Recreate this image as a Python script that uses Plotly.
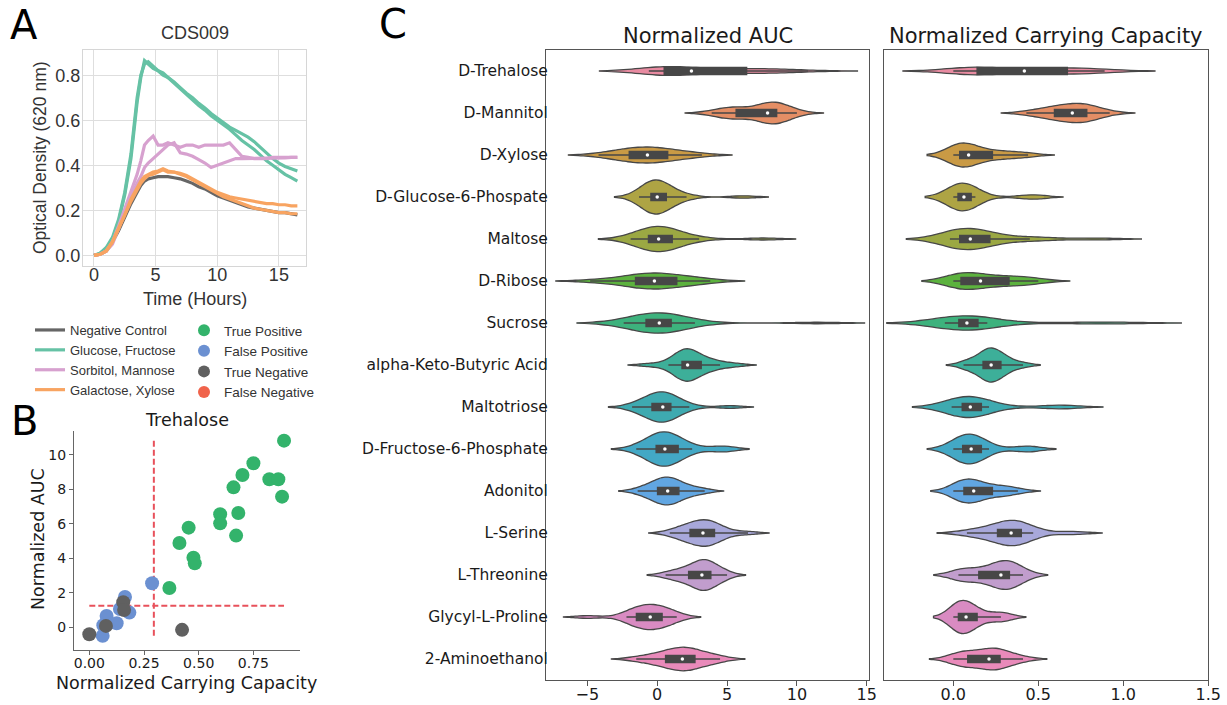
import numpy as np
import plotly.graph_objects as go

# ---------------- Panel A: growth curves (CDS009) ----------------
time_h = [0, 0.5, 1, 1.5, 2, 2.5, 3, 3.5, 3.8, 4.1, 4.4, 4.8, 5.2, 5.6, 6, 6.5, 7, 7.5,
          8, 8.5, 9, 9.5, 10, 10.5, 11, 11.5, 12, 12.5, 13, 13.5, 14, 14.5, 15, 15.5, 16, 16.5]

od_negative_1 = [0, 0.005, 0.02, 0.06, 0.11, 0.17, 0.23, 0.28, 0.31, 0.33, 0.34, 0.345, 0.35, 0.35, 0.35, 0.345, 0.34, 0.33,
                 0.32, 0.305, 0.295, 0.28, 0.265, 0.255, 0.245, 0.235, 0.225, 0.215, 0.21, 0.205, 0.2, 0.195, 0.19, 0.19, 0.185, 0.18]
od_glucose_1 = [0, 0.01, 0.03, 0.07, 0.15, 0.27, 0.43, 0.68, 0.79, 0.865, 0.85, 0.83, 0.82, 0.80, 0.79, 0.77, 0.745, 0.72,
                0.70, 0.675, 0.655, 0.63, 0.61, 0.59, 0.57, 0.555, 0.54, 0.525, 0.505, 0.48, 0.455, 0.43, 0.41, 0.395, 0.385, 0.375]
od_glucose_2 = [0, 0.01, 0.035, 0.08, 0.16, 0.28, 0.45, 0.70, 0.80, 0.85, 0.86, 0.84, 0.82, 0.81, 0.79, 0.765, 0.74, 0.715,
                0.69, 0.665, 0.645, 0.62, 0.60, 0.58, 0.56, 0.535, 0.51, 0.49, 0.47, 0.445, 0.42, 0.40, 0.38, 0.36, 0.345, 0.33]
od_sorbitol_1 = [0, 0.005, 0.02, 0.06, 0.13, 0.21, 0.28, 0.36, 0.42, 0.49, 0.51, 0.53, 0.49, 0.49, 0.50, 0.49, 0.48, 0.49,
                 0.49, 0.48, 0.49, 0.49, 0.49, 0.49, 0.50, 0.47, 0.44, 0.435, 0.43, 0.43, 0.43, 0.435, 0.435, 0.435, 0.435, 0.435]
od_sorbitol_2 = [0, 0.005, 0.02, 0.05, 0.12, 0.19, 0.26, 0.32, 0.35, 0.39, 0.41, 0.43, 0.45, 0.47, 0.49, 0.50, 0.455, 0.45,
                 0.44, 0.425, 0.41, 0.39, 0.40, 0.41, 0.42, 0.43, 0.43, 0.43, 0.43, 0.43, 0.43, 0.43, 0.43, 0.433, 0.435, 0.435]
od_galactose_1 = [0, 0.005, 0.02, 0.06, 0.12, 0.18, 0.24, 0.29, 0.32, 0.34, 0.355, 0.36, 0.37, 0.38, 0.37, 0.37, 0.36, 0.35,
                  0.335, 0.32, 0.305, 0.29, 0.275, 0.26, 0.25, 0.24, 0.23, 0.22, 0.21, 0.205, 0.20, 0.195, 0.19, 0.19, 0.185, 0.185]
od_galactose_2 = [0, 0.005, 0.02, 0.06, 0.12, 0.18, 0.25, 0.30, 0.33, 0.35, 0.36, 0.37, 0.375, 0.385, 0.375, 0.37, 0.365, 0.355,
                  0.34, 0.325, 0.31, 0.295, 0.28, 0.27, 0.26, 0.255, 0.25, 0.245, 0.24, 0.235, 0.23, 0.23, 0.225, 0.225, 0.22, 0.22]

group_names = ["Negative Control", "Glucose, Fructose", "Sorbitol, Mannose", "Galactose, Xylose"]
group_colors = ["#666666", "#66c2a5", "#d7a1cf", "#f8a461"]

# ---------------- Panel B: Trehalose scatter ----------------
tp_capacity = [0.89, 0.75, 0.70, 0.823, 0.864, 0.659, 0.881, 0.598, 0.681, 0.598, 0.454, 0.671, 0.412, 0.476, 0.482, 0.366]
tp_auc = [10.83, 9.52, 8.84, 8.59, 8.59, 8.12, 7.58, 6.56, 6.63, 6.03, 5.78, 5.32, 4.89, 4.04, 3.71, 2.28]
fp_capacity = [0.287, 0.163, 0.079, 0.183, 0.125, 0.064, 0.061, 0.140]
fp_auc = [2.55, 1.76, 0.66, 0.85, 0.23, 0.12, -0.50, 1.06]
tn_capacity = [0.0, 0.076, 0.155, 0.159, 0.424]
tn_auc = [-0.41, 0.08, 1.45, 1.00, -0.15]
fn_capacity = []
fn_auc = []
capacity_threshold = 0.295
auc_threshold = 1.25

class_names = ["True Positive", "False Positive", "True Negative", "False Negative"]
class_colors = ["#33b36b", "#6b90d1", "#606060", "#f0634b"]

# ---------------- Panel C: violins ----------------
categories = ["D-Trehalose", "D-Mannitol", "D-Xylose", "D-Glucose-6-Phospate", "Maltose", "D-Ribose",
              "Sucrose", "alpha-Keto-Butyric Acid", "Maltotriose", "D-Fructose-6-Phosphate", "Adonitol",
              "L-Serine", "L-Threonine", "Glycyl-L-Proline", "2-Aminoethanol"]

auc_values = [
    [-0.6, -0.5, -0.4, -0.2, 0.0, 0.1, 0.3, 0.5, 0.6, 0.8, 1.0, 1.2, 1.5, 1.8, 2.3, 2.6, 3.0, 3.7, 4.2, 4.9,
     5.5, 6.0, 6.4, 6.6, 7.5, 8.1, 8.6, 8.8, 9.5, 10.8],
    [3.9, 4.6, 5.1, 5.4, 5.5, 5.8, 6.4, 7.2, 7.6, 7.8, 8.0, 8.1, 8.2, 8.3, 8.5, 8.6, 8.8, 9.0, 9.4, 10.0],
    [-4.2, -3.5, -2.8, -2.4, -2.1, -1.9, -1.6, -1.3, -1.0, -0.8, -0.6, -0.3, 0.0, 0.3, 0.6, 0.9, 1.2, 1.8, 2.5, 3.2],
    [-1.3, -1.0, -0.8, -0.6, -0.5, -0.4, -0.3, -0.2, -0.1, 0.0, 0.0, 0.1, 0.2, 0.4, 0.6, 0.7, 1.0, 1.5, 2.1, 6.2],
    [-1.9, -1.5, -1.1, -0.8, -0.7, -0.4, -0.2, 0.0, 0.05, 0.1, 0.3, 0.5, 0.8, 1.0, 1.1, 1.5, 2.0, 3.0, 7.6],
    [-4.8, -3.5, -2.6, -2.0, -1.6, -1.4, -1.0, -0.7, -0.4, -0.2, 0.0, 0.3, 0.7, 1.1, 1.5, 1.8, 2.4, 3.0, 3.8],
    [-2.4, -1.8, -1.3, -1.0, -0.8, -0.5, -0.2, 0.0, 0.1, 0.2, 0.4, 0.6, 0.8, 1.0, 1.3, 1.8, 2.7, 11.5],
    [-0.6, 0.8, 1.2, 1.5, 1.7, 1.85, 1.95, 2.05, 2.1, 2.15, 2.2, 2.3, 2.5, 2.7, 3.0, 3.3, 3.5, 4.0, 4.5, 5.6],
    [-1.8, -1.3, -0.9, -0.6, -0.4, -0.3, -0.1, 0.1, 0.3, 0.4, 0.5, 0.6, 0.8, 0.9, 1.0, 1.3, 1.7, 2.3, 5.2],
    [-1.5, -1.0, -0.6, -0.3, -0.15, 0.0, 0.2, 0.35, 0.45, 0.5, 0.6, 0.8, 1.0, 1.2, 1.4, 1.6, 2.0, 2.5, 4.6, 4.8],
    [-1.4, -0.9, -0.5, -0.2, 0.0, 0.1, 0.3, 0.5, 0.7, 0.75, 0.8, 1.0, 1.2, 1.4, 1.6, 1.8, 2.2, 2.8, 3.4],
    [0.9, 1.5, 1.9, 2.2, 2.35, 2.6, 2.9, 3.1, 3.25, 3.3, 3.5, 3.7, 3.9, 4.1, 4.2, 4.5, 5.1, 6.5],
    [0.6, 1.2, 1.8, 2.1, 2.3, 2.7, 3.0, 3.1, 3.2, 3.25, 3.4, 3.6, 3.8, 3.95, 4.2, 4.5, 5.0],
    [-5.0, -2.2, -1.9, -1.6, -1.45, -1.2, -0.9, -0.6, -0.5, -0.45, -0.3, 0.0, 0.3, 0.5, 0.7, 1.0, 1.4],
    [-1.5, -0.7, 0.0, 0.4, 0.6, 0.9, 1.3, 1.6, 1.75, 1.85, 2.0, 2.2, 2.5, 2.7, 3.0, 3.5, 4.0, 4.5],
]

capacity_values = [
    [0.0, 0.06, 0.06, 0.064, 0.076, 0.079, 0.125, 0.14, 0.155, 0.159, 0.163, 0.183, 0.287, 0.366, 0.412,
     0.424, 0.454, 0.476, 0.482, 0.598, 0.598, 0.659, 0.671, 0.681, 0.70, 0.75, 0.823, 0.864, 0.881, 0.89],
    [0.43, 0.5, 0.55, 0.58, 0.6, 0.63, 0.66, 0.69, 0.7, 0.72, 0.74, 0.76, 0.78, 0.8, 0.82, 0.85, 0.92],
    [0.0, 0.0, 0.01, 0.03, 0.04, 0.05, 0.06, 0.08, 0.09, 0.1, 0.12, 0.16, 0.22, 0.26, 0.3, 0.38, 0.44],
    [0.0, 0.01, 0.02, 0.025, 0.03, 0.045, 0.05, 0.06, 0.065, 0.07, 0.08, 0.1, 0.11, 0.13, 0.45, 0.48],
    [-0.02, 0.0, 0.02, 0.03, 0.04, 0.06, 0.08, 0.09, 0.1, 0.12, 0.14, 0.16, 0.2, 0.26, 0.45, 0.5, 0.85],
    [0.0, 0.01, 0.02, 0.03, 0.05, 0.08, 0.1, 0.13, 0.16, 0.18, 0.22, 0.27, 0.32, 0.35, 0.4, 0.45, 0.5],
    [-0.05, 0.0, 0.02, 0.03, 0.04, 0.06, 0.07, 0.08, 0.09, 0.11, 0.13, 0.15, 0.2, 0.75, 1.0],
    [0.06, 0.1, 0.14, 0.17, 0.18, 0.2, 0.21, 0.22, 0.225, 0.23, 0.25, 0.27, 0.29, 0.3, 0.34, 0.41],
    [-0.01, 0.0, 0.03, 0.05, 0.06, 0.08, 0.09, 0.1, 0.11, 0.13, 0.15, 0.17, 0.21, 0.6, 0.65],
    [0.0, 0.02, 0.04, 0.05, 0.07, 0.09, 0.1, 0.105, 0.11, 0.13, 0.15, 0.17, 0.21, 0.42, 0.45],
    [0.0, 0.02, 0.04, 0.06, 0.07, 0.09, 0.11, 0.12, 0.13, 0.16, 0.2, 0.24, 0.28, 0.32, 0.38],
    [0.08, 0.15, 0.22, 0.26, 0.29, 0.31, 0.33, 0.35, 0.37, 0.39, 0.4, 0.42, 0.47, 0.7],
    [0.03, 0.05, 0.08, 0.15, 0.2, 0.24, 0.27, 0.29, 0.3, 0.31, 0.33, 0.35, 0.38, 0.41],
    [0.0, 0.005, 0.015, 0.03, 0.05, 0.06, 0.07, 0.08, 0.1, 0.12, 0.14, 0.21, 0.28, 0.31],
    [0.0, 0.03, 0.06, 0.08, 0.1, 0.15, 0.2, 0.21, 0.22, 0.24, 0.26, 0.28, 0.3, 0.35, 0.41],
]

# ---------------- styles ----------------
violin_colors = ["#e88ba1", "#e48e65", "#c99a45", "#aea444", "#9ba843", "#5cb23e", "#3db27d", "#3daf99",
                 "#3eaab0", "#43a8c5", "#61a6e2", "#a8a8da", "#c19dcd", "#d98bc2", "#e98aba"]
auc_widths = [0.21, 0.52, 0.38, 0.81, 0.60, 0.38, 0.48, 0.77, 0.72, 0.82, 0.66, 0.63, 0.73, 0.60, 0.56]
cap_widths = [0.18, 0.46, 0.57, 0.66, 0.50, 0.40, 0.34, 0.81, 0.50, 0.71, 0.57, 0.60, 0.68, 0.79, 0.52]

# layout is designed on a 1227 x 705 canvas; the figure fills the window
W, H = 1227, 705
def px(xp):
    return xp / W
def py(yp):
    return 1 - yp / H

fig = go.Figure()

# Panel A traces
line_sets = [[od_negative_1], [od_glucose_1, od_glucose_2], [od_sorbitol_1, od_sorbitol_2],
             [od_galactose_1, od_galactose_2]]
for name, color, series in zip(group_names, group_colors, line_sets):
    for i, s in enumerate(series):
        fig.add_trace(go.Scatter(x=time_h, y=s, mode="lines", line=dict(color=color, width=3.2),
                                 name=name, legendgroup=name, showlegend=(i == 0), legend="legend",
                                 xaxis="x", yaxis="y", hoverinfo="skip"))

# Panel B traces
all_cap = tp_capacity + fp_capacity + tn_capacity
all_auc = tp_auc + fp_auc + tn_auc
fig.add_trace(go.Scatter(x=[capacity_threshold, capacity_threshold], y=[min(all_auc), max(all_auc)],
                         mode="lines", line=dict(color="#e8515b", width=2, dash="6px,3px"),
                         showlegend=False, xaxis="x2", yaxis="y2", hoverinfo="skip"))
fig.add_trace(go.Scatter(x=[min(all_cap), max(all_cap)], y=[auc_threshold, auc_threshold],
                         mode="lines", line=dict(color="#e8515b", width=2, dash="6px,3px"),
                         showlegend=False, xaxis="x2", yaxis="y2", hoverinfo="skip"))
for name, color, xs, ys in zip(class_names, class_colors,
                               [tp_capacity, fp_capacity, tn_capacity, fn_capacity],
                               [tp_auc, fp_auc, tn_auc, fn_auc]):
    fig.add_trace(go.Scatter(x=xs if xs else [None], y=ys if ys else [None], mode="markers",
                             marker=dict(color=color, size=14, line=dict(width=0)),
                             name=name, legend="legend2", xaxis="x2", yaxis="y2", hoverinfo="skip"))

# Panel C traces (Scott's-rule bandwidth, like seaborn)
for values, widths, xa, ya in [(auc_values, auc_widths, "x3", "y3"),
                               (capacity_values, cap_widths, "x4", "y4")]:
    for cat, vals, color, w in zip(categories, values, violin_colors, widths):
        arr = np.asarray(vals, dtype=float)
        bw = float(np.std(arr, ddof=1) * len(arr) ** (-0.2))
        fig.add_trace(go.Violin(
            x=vals, y=[cat] * len(vals), orientation="h", xaxis=xa, yaxis=ya,
            fillcolor=color, line=dict(color="#474747", width=1.3), opacity=1,
            width=w, scalemode="width", spanmode="soft", bandwidth=bw,
            box=dict(visible=True, width=min(0.17 / w, 1.0), fillcolor="#474747",
                     line=dict(color="#474747", width=1.4)),
            meanline=dict(visible=False), points="outliers",
            marker=dict(opacity=0, size=1), showlegend=False, hoverinfo="skip"))
    fig.add_trace(go.Scatter(x=[float(np.median(v)) for v in values], y=categories, mode="markers",
                             marker=dict(color="white", size=3.5), xaxis=xa, yaxis=ya,
                             showlegend=False, hoverinfo="skip"))

sans = "Liberation Sans, Arial, sans-serif"
dv = "DejaVu Sans, sans-serif"
grid_c = "#dedede"

fig.update_layout(
    autosize=True, margin=dict(l=0, r=0, t=0, b=0, autoexpand=False),
    paper_bgcolor="white", plot_bgcolor="white", violinmode="overlay",
    font=dict(family=dv, color="#1a1a1a"),
    xaxis=dict(domain=[px(83), px(306)], anchor="y", range=[-0.89, 17.2], tickvals=[0, 5, 10, 15],
               showgrid=True, gridcolor=grid_c, gridwidth=1, zeroline=False, showline=True, mirror=True,
               linecolor="#d6d6d6", linewidth=1.2, ticks="", ticklabelstandoff=-8,
               tickfont=dict(family=sans, size=18, color="#333333")),
    yaxis=dict(domain=[py(266), py(50)], anchor="x", range=[-0.047, 0.912],
               tickvals=[0, 0.2, 0.4, 0.6, 0.8], ticktext=["0.0", "0.2", "0.4", "0.6", "0.8"],
               showgrid=True, gridcolor=grid_c, gridwidth=1, zeroline=False, showline=True, mirror=True,
               linecolor="#d6d6d6", linewidth=1.2, ticks="", ticklabelstandoff=-2,
               tickfont=dict(family=sans, size=18, color="#333333")),
    xaxis2=dict(domain=[px(74), px(300)], anchor="y2", range=[-0.07, 0.963],
                tickvals=[0, 0.25, 0.5, 0.75], ticktext=["0.00", "0.25", "0.50", "0.75"],
                showgrid=False, zeroline=False, showline=True, mirror=False, linecolor="#666666", linewidth=1.3,
                ticks="outside", ticklen=4, tickcolor="#666666", ticklabelstandoff=-4,
                tickfont=dict(family=dv, size=14, color="#1a1a1a")),
    yaxis2=dict(domain=[py(650), py(431)], anchor="x2", range=[-1.32, 11.39], tickvals=[0, 2, 4, 6, 8, 10],
                showgrid=False, zeroline=False, showline=True, mirror=False, linecolor="#666666", linewidth=1.3,
                ticks="outside", ticklen=4, tickcolor="#666666", tickfont=dict(family=dv, size=14, color="#1a1a1a")),
    xaxis3=dict(domain=[px(546), px(869)], anchor="y3", range=[-7.96, 15.16], tickvals=[-5, 0, 5, 10, 15],
                showgrid=False, zeroline=False, showline=True, mirror=True, linecolor="#555555", linewidth=1.3,
                ticks="outside", ticklen=5, tickcolor="#555555", ticklabelstandoff=-5,
                tickfont=dict(family=dv, size=16, color="#1a1a1a")),
    yaxis3=dict(domain=[py(680), py(50)], anchor="x3", type="category", categoryorder="array",
                categoryarray=categories, range=[14.5, -0.5], showgrid=False, zeroline=False, showline=True,
                mirror=True, linecolor="#555555", linewidth=1.3, ticks="", ticklabelstandoff=-6,
                tickfont=dict(family=dv, size=15.5, color="#1a1a1a")),
    xaxis4=dict(domain=[px(884.3), px(1208.3)], anchor="y4", range=[-0.406, 1.5],
                tickvals=[0, 0.5, 1.0, 1.5], ticktext=["0.0", "0.5", "1.0", "1.5"],
                showgrid=False, zeroline=False, showline=True, mirror=True, linecolor="#555555", linewidth=1.3,
                ticks="outside", ticklen=5, tickcolor="#555555", ticklabelstandoff=-5,
                tickfont=dict(family=dv, size=16, color="#1a1a1a")),
    yaxis4=dict(domain=[py(680), py(50)], anchor="x4", type="category", categoryorder="array",
                categoryarray=categories, range=[14.5, -0.5], showgrid=False, zeroline=False, showline=True,
                mirror=True, linecolor="#555555", linewidth=1.3, ticks="", showticklabels=False),
    legend=dict(x=px(30), y=py(315), xanchor="left", yanchor="top", bgcolor="rgba(0,0,0,0)",
                font=dict(family=sans, size=13, color="#333333"), tracegroupgap=0, itemwidth=30),
    legend2=dict(x=px(184), y=py(315), xanchor="left", yanchor="top", bgcolor="rgba(0,0,0,0)",
                 font=dict(family=sans, size=13.5, color="#333333"), itemsizing="constant"),
)

ann = [
    dict(text="A", x=px(24), y=py(25), font=dict(family=dv, size=40, color="black")),
    dict(text="B", x=px(24), y=py(421), font=dict(family=dv, size=40, color="black")),
    dict(text="C", x=px(393), y=py(24), font=dict(family=dv, size=40, color="black")),
    dict(text="CDS009", x=px(195), y=py(33), font=dict(family=sans, size=18, color="#333333")),
    dict(text="Time (Hours)", x=px(195), y=py(299), font=dict(family=sans, size=18, color="#333333")),
    dict(text="Optical Density (620 nm)", x=px(40), y=py(158), textangle=-90,
         font=dict(family=sans, size=17.5, color="#333333")),
    dict(text="Trehalose", x=px(187), y=py(420), font=dict(family=dv, size=17.5, color="#1a1a1a")),
    dict(text="Normalized AUC", x=px(38), y=py(539), textangle=-90, font=dict(family=dv, size=17.5, color="#1a1a1a")),
    dict(text="Normalized Carrying Capacity", x=px(186), y=py(683), font=dict(family=dv, size=17.5, color="#1a1a1a")),
    dict(text="Normalized AUC", x=px(708), y=py(36), font=dict(family=dv, size=21, color="#1a1a1a")),
    dict(text="Normalized Carrying Capacity", x=px(1046), y=py(36), font=dict(family=dv, size=21, color="#1a1a1a")),
]
for a in ann:
    a.update(xref="paper", yref="paper", showarrow=False, xanchor="center", yanchor="middle")
fig.update_layout(annotations=ann)

fig.write_html("out.html", default_width="100vw", default_height="100vh", config={"responsive": True},
               post_script="document.body.style.margin='0';document.body.style.overflow='hidden';")
